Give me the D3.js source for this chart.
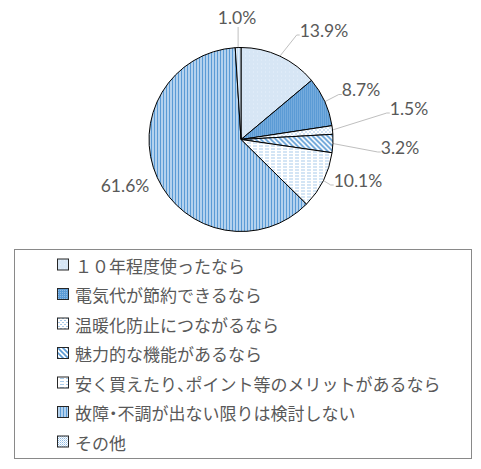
<!DOCTYPE html>
<html><head><meta charset="utf-8">
<script src="https://cdn.jsdelivr.net/npm/d3@7"></script>
<style>body{margin:0;background:#fff}.h{font-feature-settings:"halt"}</style>
</head><body>
<svg id="c" width="481" height="469"></svg>
<script>
const categories = ["１０年程度使ったなら","電気代が節約できるなら","温暖化防止につながるなら","魅力的な機能があるなら","安く買えたり、ポイント等のメリットがあるなら","故障・不調が出ない限りは検討しない","その他"];
const values = [13.9, 8.7, 1.5, 3.2, 10.1, 61.6, 1.0];
const valueLabels = ["13.9%","8.7%","1.5%","3.2%","10.1%","61.6%","1.0%"];

const svg = d3.select("#c");
const defs = svg.append("defs");
function pat(id, w, h, bg, draw){
  const p = defs.append("pattern").attr("id",id).attr("patternUnits","userSpaceOnUse").attr("width",w).attr("height",h);
  p.append("rect").attr("width",w).attr("height",h).attr("fill",bg);
  draw(p);
}
pat("p0",4,4,"#d7e6f5",p=>{p.append("rect").attr("x",0).attr("y",0).attr("width",1).attr("height",1).attr("fill","#e6f0fa");});
pat("p1",2,2,"#5b9bd5",p=>{p.append("rect").attr("x",0).attr("y",0).attr("width",1).attr("height",1).attr("fill","#8fbbe4");});
pat("p2",4,4,"#ffffff",p=>{p.append("rect").attr("x",0).attr("y",0).attr("width",2).attr("height",1).attr("fill","#a9cbea");p.append("rect").attr("x",2).attr("y",2).attr("width",2).attr("height",1).attr("fill","#a9cbea");});
pat("p3",5,5,"#ffffff",p=>{p.append("path").attr("d","M-1,-1L6,6M-1,4L1,6M4,-1L6,1").attr("stroke","#5b9bd5").attr("stroke-width",1.6);});
pat("p4",6,3,"#ffffff",p=>{p.append("rect").attr("x",0).attr("y",0).attr("width",4).attr("height",1).attr("fill","#a9cbea");});
pat("p5",3,3,"#b4d2ee",p=>{p.append("rect").attr("x",0).attr("y",0).attr("width",1).attr("height",3).attr("fill","#5b9bd5");});
pat("p6",2,2,"#ffffff",p=>{p.append("rect").attr("x",0).attr("y",0).attr("width",1).attr("height",1).attr("fill","#8fbbe4");p.append("rect").attr("x",1).attr("y",1).attr("width",1).attr("height",1).attr("fill","#c5dcf2");});
const fills = d3.range(7).map(i=>`url(#p${i})`);

const cx = 241, cy = 139.5, r = 92;
const pie = d3.pie().sort(null).value(d=>d);
const arcs = pie(values);
const arc = d3.arc().innerRadius(0).outerRadius(r);
const g = svg.append("g").attr("transform",`translate(${cx},${cy})`);
g.selectAll("path.s").data(arcs).join("path").attr("class","s")
  .attr("d",arc).attr("fill",(d,i)=>fills[i]).attr("stroke","#000").attr("stroke-width",1);

// label layout (offsets from pie centre)
const labelPos = [[83,-109.5],[120,-50],[168,-31.5],[159,7.5],[117,40.5],[-116,45.5],[-4,-122.5]];
const fontLab = "Lato, 'Liberation Sans', sans-serif";
arcs.forEach((a,i)=>{
  const [lx,ly] = labelPos[i];
  const t = g.append("text").attr("x",lx).attr("y",ly).attr("text-anchor","middle").attr("dominant-baseline","central")
    .attr("font-family",fontLab).attr("font-size",17.5).attr("fill","#595959").text(valueLabels[i]);
  const w = t.node().getComputedTextLength();
  const mid = (a.startAngle+a.endAngle)/2;
  const ex = Math.sin(mid)*r, ey = -Math.cos(mid)*r;
  if (i===5) return;
  let pts;
  if (i===6) pts = [[ex,ey],[ex,ly+10]];
  else pts = [[ex,ey],[lx-w/2-3,ly+5],[lx-w/2,ly+5]];
  g.append("path").attr("d",d3.line()(pts)).attr("fill","none").attr("stroke","#bfbfbf").attr("stroke-width",1);
});
g.selectAll("path.s").raise();

// legend
svg.append("rect").attr("x",14.5).attr("y",249.5).attr("width",457).attr("height",209).attr("fill","none").attr("stroke","#898989").attr("stroke-width",1);
const ly = d3.scalePoint().domain(categories).range([264.5,441.5]);
const lg = svg.append("g");
categories.forEach((c,i)=>{
  const y = ly(c);
  lg.append("rect").attr("x",57.5).attr("y",y-5.5).attr("width",11).attr("height",11).attr("fill",fills[i]).attr("stroke","#262626").attr("stroke-width",1);
  const t = lg.append("text").attr("x",75).attr("y",y).attr("dominant-baseline","central")
    .attr("font-family","'Noto Sans CJK JP', sans-serif").attr("font-size",17).attr("fill","#595959");
  c.split(/([、・])/).filter(s=>s.length).forEach(s=>{
    const ts = t.append("tspan").text(s);
    if (s==="、"||s==="・") ts.attr("class","h");
  });
});
</script>
</body></html>
